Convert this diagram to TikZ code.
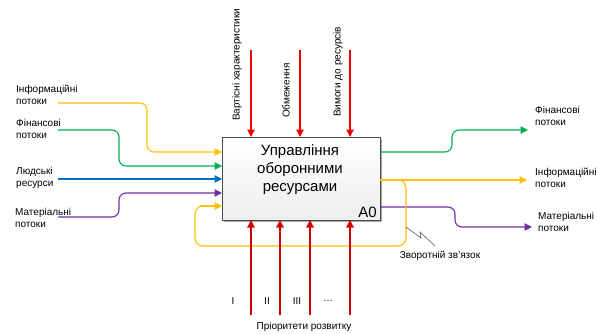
\documentclass[tikz,border=0pt]{standalone}
\usepackage{fontspec}
\setmainfont{Liberation Sans}
\usetikzlibrary{arrows.meta,shadows}
\definecolor{cyel}{HTML}{FFC000}
\definecolor{cgrn}{HTML}{00B050}
\definecolor{cblu}{HTML}{0070C0}
\definecolor{cpur}{HTML}{7030A0}
\definecolor{cred}{HTML}{F00000}
\definecolor{cred2}{HTML}{D00000}
\begin{document}
\begin{tikzpicture}[x=1pt,y=-1pt,
  flow/.style={line width=1.1pt, rounded corners=7pt,
    -{Triangle[length=7.5pt,width=7.5pt]}},
  loop/.style={line width=1.1pt, rounded corners=8pt},
  lbl/.style={font=\fontsize{10}{12}\selectfont, align=left, inner sep=0pt, anchor=west},
  vlbl/.style={font=\fontsize{10}{12}\selectfont, inner sep=0pt, rotate=90, anchor=west},
  txt/.style={font=\fontsize{10}{12}\selectfont, inner sep=0pt},
  func/.style={draw=black!70, line width=0.8pt, outer sep=0pt,
    minimum width=158pt, minimum height=83pt,
    top color=white, bottom color=black!7,
    drop shadow={shadow xshift=1.6pt, shadow yshift=-1.6pt, fill=black!35, opacity=1}}]
\useasboundingbox (0,0) rectangle (597,333);

% activity box
\node[func, anchor=north west] (main) at (222,137) {};
\node[font=\fontsize{15}{18}\selectfont, align=center, inner sep=0pt] (title) at (300,170)
  {Управління\\оборонними\\ресурсами};
\node[font=\fontsize{15}{18}\selectfont, inner sep=0pt, anchor=south east] (code) at (377,218) {A0};

% free ends of the input flows
\coordinate (infoIn) at (58,103);
\coordinate (finIn)  at (58,130);
\coordinate (humIn)  at (58,179);
\coordinate (matIn)  at (58,217);

% inputs
\draw[flow, cyel] (infoIn) -- (147,103) -- (147,152) -- (main.west |- 0,152);
\draw[flow, cgrn] (finIn) -- (119,130) -- (119,166) -- (main.west |- 0,166);
\draw[flow, cblu] (humIn) -- (main.west |- 0,179);
\draw[flow, cpur] (matIn) -- (119,217) -- (119,193) -- (main.west |- 0,193);

\node[lbl] (lInfo) at (16,95)  {Інформаційні\\потоки};
\node[lbl] (lFin)  at (16,129) {Фінансові\\потоки};
\node[lbl] (lHum)  at (16,178) {Людські\\ресурси};
\node[lbl] (lMat)  at (15,218) {Матеріальні\\потоки};

% outputs
\coordinate (finOut)  at (528,130);
\coordinate (infoOut) at (527,180);
\coordinate (matOut)  at (532,227);
\draw[flow, cgrn] (main.east |- 0,152) -- (452,152) -- (452,130) -- (finOut);
\draw[flow, cyel] (main.east |- 0,180) -- (infoOut);
\draw[flow, cpur] (main.east |- 0,207) -- (455,207) -- (455,227) -- (matOut);

\node[lbl] (rFin)  at (535,116) {Фінансові\\потоки};
\node[lbl] (rInfo) at (535,178) {Інформаційні\\потоки};
\node[lbl] (rMat)  at (538,222) {Матеріальні\\потоки};

% feedback loop
\draw[loop, cyel] (main.east |- 0,180) -- (406,180) -- (406,246) -- (195,246) -- (195,206) -- (205,206);
\draw[flow, cyel] (200,206) -- (main.west |- 0,206);
\draw[black!65, line width=0.6pt] (406,227) -- (421,238) -- (420,232) -- (435,246);
\node[txt] (fb) at (440,256) {Зворотній зв'язок};

% controls
\foreach \x/\n in {251/c1, 300/c2, 350/c3} {
  \coordinate (\n) at (\x,50);
  \draw[flow, cred] (\n) -- (main.north -| \n);
}
\node[vlbl] (vc1) at (237,121) {Вартісні характеристики};
\node[vlbl] (vc2) at (286,118) {Обмеження};
\node[vlbl] (vc3) at (338,117) {Вимоги до ресурсів};

% mechanisms
\foreach \x/\n in {251/m1, 280/m2, 310/m3, 350/m4} {
  \coordinate (\n) at (\x,315);
  \draw[flow, cred2] (\n) -- (main.south -| \n);
}
\node[txt] (p1) at (233,301) {I};
\node[txt] (p2) at (267,301) {II};
\node[txt] (p3) at (297,301) {III};
\node[txt] (p4) at (328,301) {…};
\node[txt] (prio) at (304,327) {Пріоритети розвитку};
\end{tikzpicture}
\end{document}
